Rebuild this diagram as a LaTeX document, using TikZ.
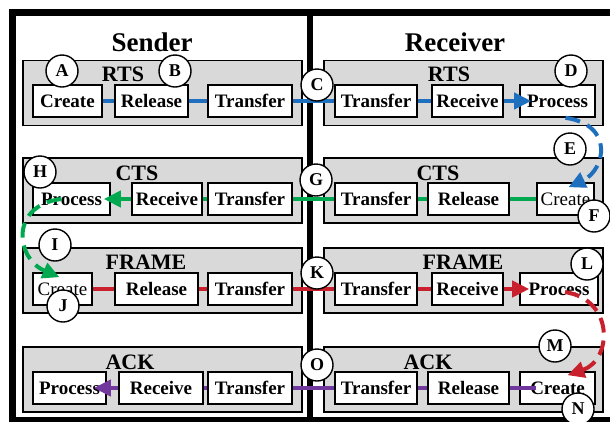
\documentclass[tikz,border=0pt]{standalone}
\usepackage{fontspec}
\setmainfont{Liberation Serif}
\usetikzlibrary{arrows.meta}

\definecolor{rtsblue}{RGB}{31,111,191}
\definecolor{ctsgreen}{RGB}{0,168,80}
\definecolor{framered}{RGB}{200,32,44}
\definecolor{ackpurple}{RGB}{112,56,156}

\tikzset{%
  group box/.style={
    draw,
    line width=1.2pt,
    fill=black!15,
    minimum width=279pt,
    minimum height=65pt
  },
  step box/.style={
    draw,
    line width=1.6pt,
    fill=white,
    minimum height=32pt,
    inner xsep=2pt,
    inner ysep=0pt,
    font=\fontsize{19}{19}\selectfont\bfseries
  },
  marker/.style={
    circle,
    draw,
    line width=1.4pt,
    fill=white,
    minimum size=32pt,
    inner sep=0pt,
    font=\fontsize{18}{18}\selectfont\bfseries
  },
  group label/.style={font=\fontsize{22}{22}\selectfont\bfseries},
  side label/.style={font=\fontsize{27}{27}\selectfont\bfseries},
  msg line/.style={line width=4pt},
  msg arrow/.style={msg line, -{Triangle[length=17pt,width=16pt]}},
  msg return/.style={msg arrow, dash pattern=on 15pt off 8pt},
}

\begin{document}
\begin{tikzpicture}[x=1pt, y=-1pt]

\useasboundingbox (0,0) rectangle (610,421);
\clip (0,0) rectangle (610,421);

% Rahmen
\draw [line width=7pt] (12.5,12.5) rectangle (614,420.5);
\draw [line width=6pt] (310,12.5) -- (310,421);

\node [side label] (sender) at (152,42) {Sender};
\node [side label] (receiver) at (455,42) {Receiver};


% Gruppen
\foreach \m/\y in {rts/93,cts/190.5,frame/280.5,ack/379.5} {
  \node [group box] (s-\m) at (162.5,\y) {};
  \node [group box] (r-\m) at (463.5,\y) {};
}

\foreach \m/\l/\x/\y in {rts/RTS/123/74, cts/CTS/137/173, frame/FRAME/146/262, ack/ACK/130/362}
  \node [group label] (s-\m-label) at (\x,\y) {\l};

\foreach \m/\l/\x/\y in {rts/RTS/449/74, cts/CTS/438/173, frame/FRAME/463/262, ack/ACK/428/362}
  \node [group label] (r-\m-label) at (\x,\y) {\l};


% Schritte Sender
\foreach \n/\t/\x/\w in {1/Create/67.5/69, 2/Release/151.5/73, 3/Transfer/250/84}
  \node [step box, minimum width=\w pt] (s-rts-\n) at (\x,101) {\t};

\foreach \n/\t/\x/\w in {1/Process/71.5/77, 2/Receive/167/70, 3/Transfer/250/84}
  \node [step box, minimum width=\w pt] (s-cts-\n) at (\x,199) {\t};

\foreach \n/\t/\x/\w in {1/{\mdseries Create}/62.5/59, 2/Release/156.5/83, 3/Transfer/250/84}
  \node [step box, minimum width=\w pt] (s-frame-\n) at (\x,289) {\t};

\foreach \n/\t/\x/\w in {1/Process/69.5/73, 2/Receive/161/84, 3/Transfer/250/84}
  \node [step box, minimum width=\w pt] (s-ack-\n) at (\x,388) {\t};


% Schritte Receiver
\foreach \n/\t/\x/\w in {1/Transfer/376/82, 2/Receive/467.5/71, 3/Process/557.5/75}
  \node [step box, minimum width=\w pt] (r-rts-\n) at (\x,101) {\t};

\foreach \n/\t/\x/\w in {1/Transfer/376/82, 2/Release/468.5/81, 3/{\mdseries Create}/565.5/57}
  \node [step box, minimum width=\w pt] (r-cts-\n) at (\x,199) {\t};

\foreach \n/\t/\x/\w in {1/Transfer/376/82, 2/Receive/467.5/71, 3/Process/559/78}
  \node [step box, minimum width=\w pt] (r-frame-\n) at (\x,289) {\t};

\foreach \n/\t/\x/\w in {1/Transfer/376/82, 2/Release/468.5/81, 3/Create/557.5/75}
  \node [step box, minimum width=\w pt] (r-ack-\n) at (\x,388) {\t};


% Verbindungen RTS
\foreach \a/\b in {s-rts-1/s-rts-2, s-rts-2/s-rts-3, s-rts-3/r-rts-1, r-rts-1/r-rts-2}
  \draw [msg line, rtsblue] (\a) -- (\b);
\draw [msg arrow, rtsblue, shorten >=-12pt] (r-rts-2) -- (r-rts-3);
\draw [msg return, rtsblue] ([xshift=8pt]r-rts-3.south)
  .. controls (615,125) and (605,170) .. ([shift={(3,5)}]r-cts-3.north);

% Verbindungen CTS
\foreach \a/\b in {r-cts-3/r-cts-2, r-cts-2/r-cts-1, r-cts-1/s-cts-3, s-cts-3/s-cts-2}
  \draw [msg line, ctsgreen] (\a) -- (\b);
\draw [msg arrow, ctsgreen, shorten >=-7pt] (s-cts-2) -- (s-cts-1);
\draw [msg return, ctsgreen] ([xshift=-10pt]s-cts-1.center)
  .. controls (10,205) and (15,258) .. ([shift={(-3,5)}]s-frame-1.north);

% Verbindungen FRAME
\foreach \a/\b in {s-frame-1/s-frame-2, s-frame-2/s-frame-3, s-frame-3/r-frame-1, r-frame-1/r-frame-2}
  \draw [msg line, framered] (\a) -- (\b);
\draw [msg arrow, framered, shorten >=-10pt] (r-frame-2) -- (r-frame-3);
\draw [msg return, framered] ([shift={(6,3)}]r-frame-3.center)
  .. controls (615,300) and (612,360) .. ([shift={(10,4)}]r-ack-3.north);

% Verbindungen ACK
\draw [msg line, ackpurple] ([xshift=17pt]r-ack-3.west) -- (r-ack-2);
\foreach \a/\b in {r-ack-2/r-ack-1, r-ack-1/s-ack-3, s-ack-3/s-ack-2}
  \draw [msg line, ackpurple] (\a) -- (\b);
\draw [msg arrow, ackpurple, shorten >=-13pt] (s-ack-2) -- (s-ack-1);


% Markierungen
\foreach \l/\x/\y in {A/62/71, B/175/71, C/317/85, D/571/71, E/570/149,
    F/594/216, G/316/180, H/40/172, I/55/245, J/63/306, K/317/273,
    L/587/264, M/555/346, N/578/409, O/317/365}
  \node [marker] (mark-\l) at (\x,\y) {\l};

\end{tikzpicture}
\end{document}
